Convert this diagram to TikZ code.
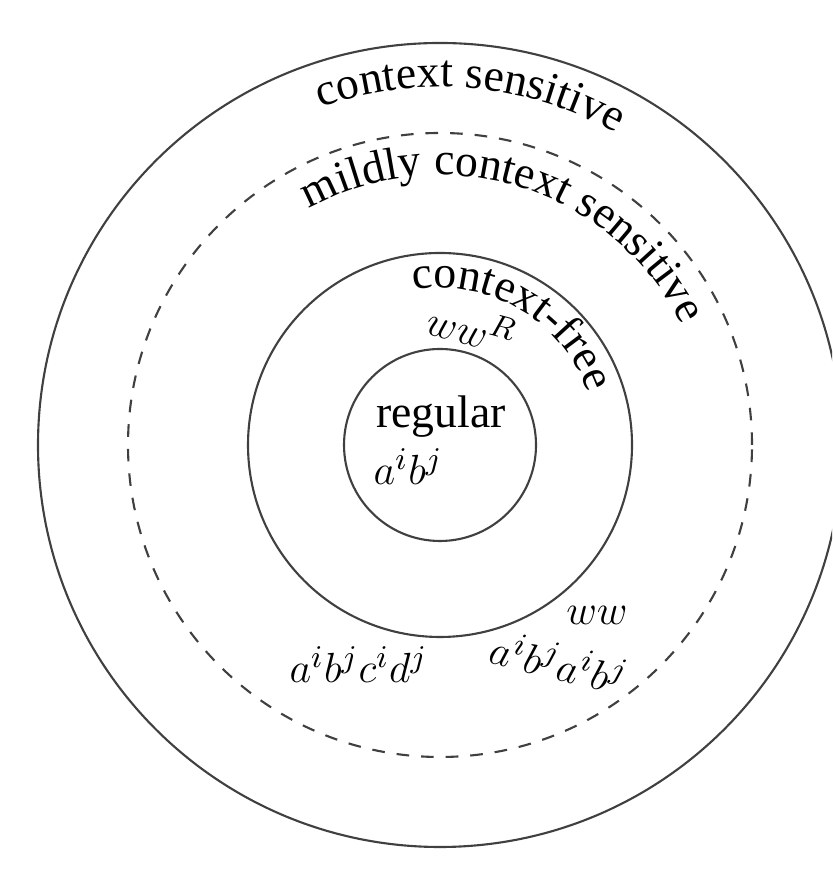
\documentclass[tikz,border=0pt]{standalone}
\usepackage{fontspec}
\setmainfont{Liberation Serif}
\usetikzlibrary{decorations.text}
\newcommand\arcfont{\fontsize{13}{15}\selectfont}
\tikzset{
  ring/.style={draw=black!75, line width=0.6pt},
  dashring/.style={ring, dash pattern=on 3.6pt off 3.4pt},
  lab/.style={font=\arcfont, inner sep=0pt, text=black},
  arclab/.style={decorate, decoration={text along path, text align=center, text color=black}}
}
\begin{document}
\begin{tikzpicture}
\useasboundingbox (0,0) rectangle (8.32,8.73);
\clip (0,0) rectangle (8.32,8.73);
\coordinate (c) at (4.40,4.28);
% circles
\draw[ring] (c) circle[radius=4.02];
\draw[dashring] (c) circle[radius=3.12];
\draw[ring] (c) circle[radius=1.92];
\draw[ring] (c) circle[radius=0.96];
% curved labels
\path[arclab, decoration={text={|\arcfont|context sensitive}}]
  (c) ++(125:3.58) arc[start angle=125, end angle=45, radius=3.58];
\path[arclab, decoration={text={|\arcfont|mildly context sensitive}}]
  (c) ++(135:2.70) arc[start angle=135, end angle=10.4, radius=2.70];
\path[arclab, decoration={text={|\arcfont|context-free}}]
  (c) ++(115:1.57) arc[start angle=115, end angle=4, radius=1.57];
% straight labels
\node[lab, anchor=base] (reg) at (4.41,4.45) {regular};
\node[lab, anchor=base west] (ab) at (3.73,3.88) {$a^{i}b^{j}$};
\node[lab, rotate=-15] (wwr) at (4.72,5.46) {$ww^{R}$};
\node[lab, anchor=base] (ww) at (5.97,2.48) {$ww$};
\node[lab, rotate=-14] (abab) at (5.59,2.11) {$a^{i}b^{j}a^{i}b^{j}$};
\node[lab, anchor=base] (abcd) at (3.585,1.90) {$a^{i}b^{j}c^{i}d^{j}$};
\end{tikzpicture}
\end{document}
